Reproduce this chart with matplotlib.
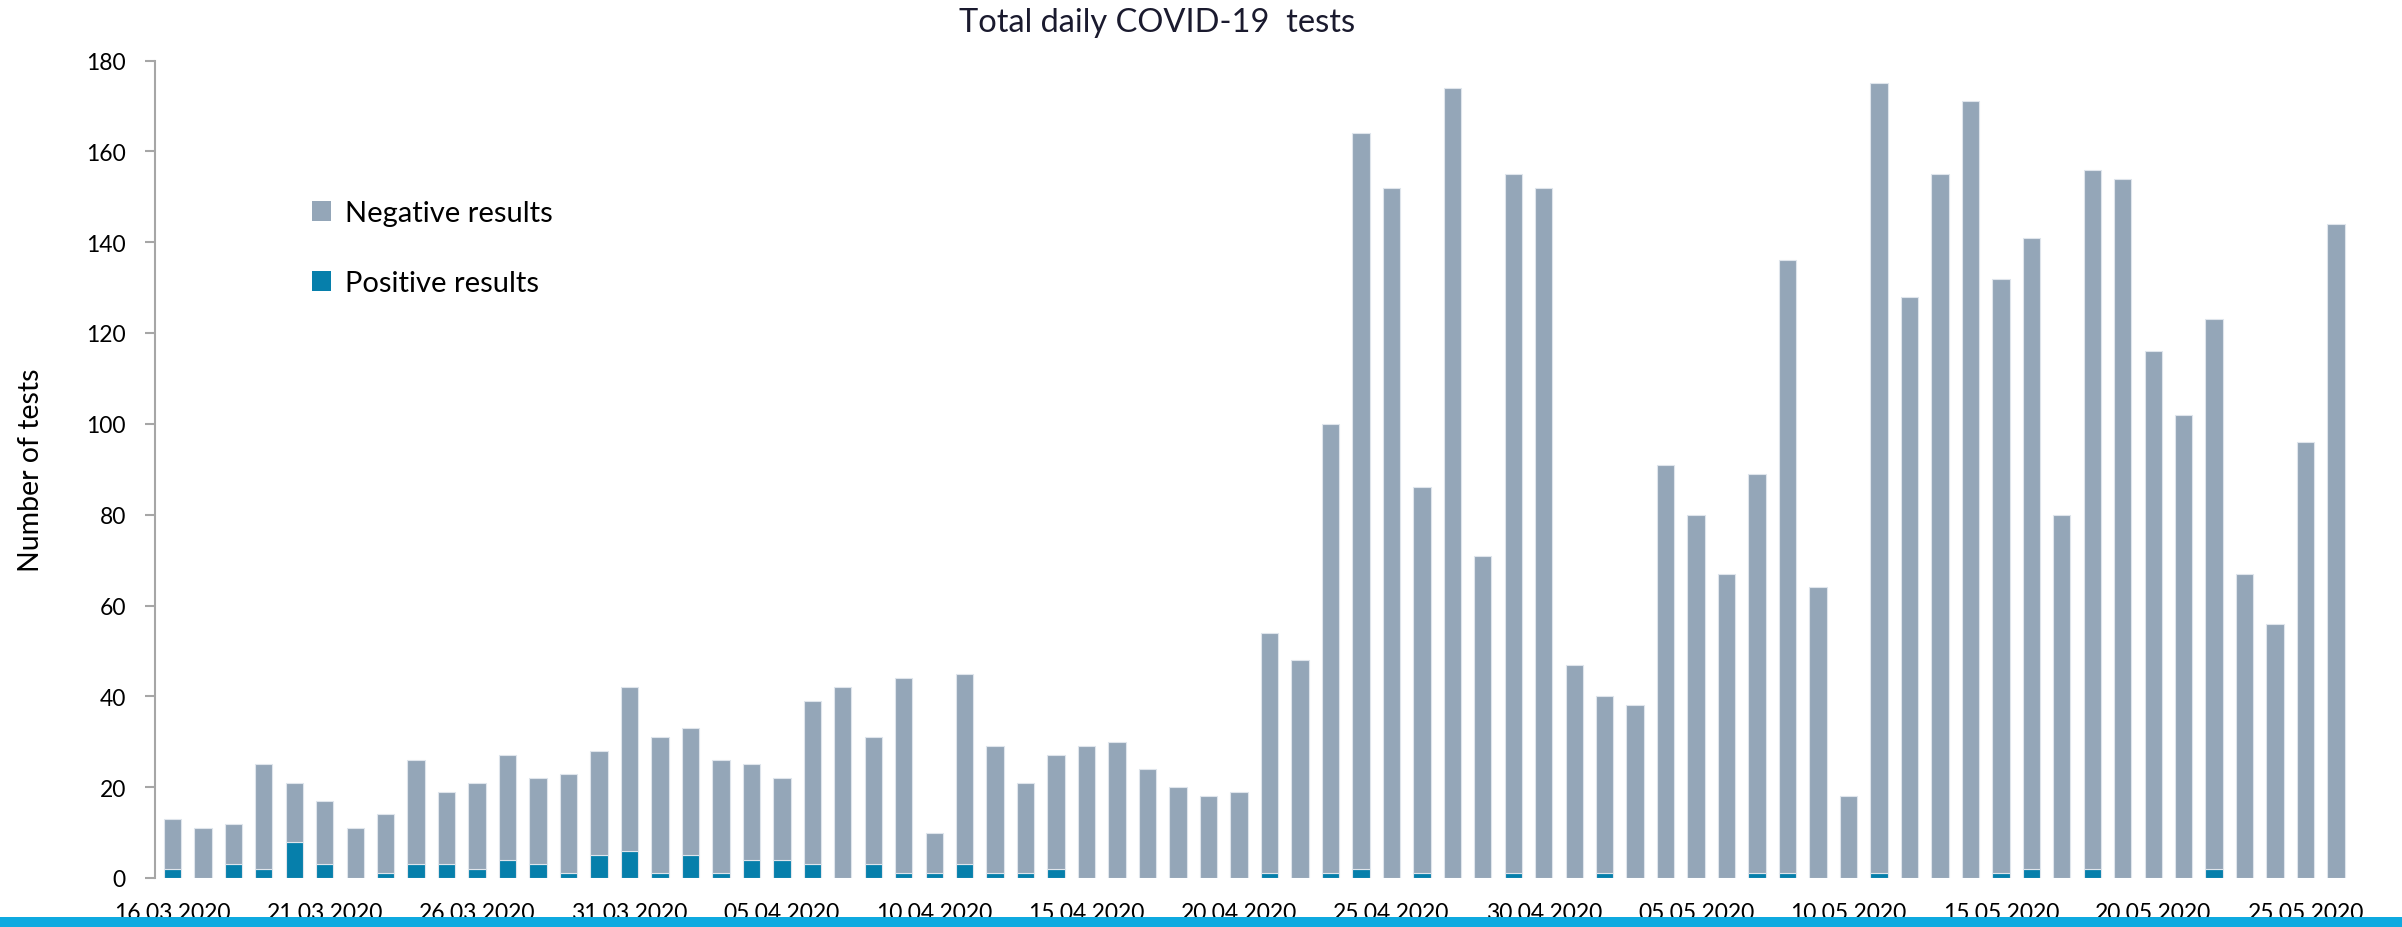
import pandas as pd
import matplotlib
matplotlib.use('Agg')
import matplotlib.pyplot as plt
from matplotlib.patches import Patch, Rectangle

plt.rcParams['font.family'] = ['Lato', 'DejaVu Sans']

# days from 16.03.2020 to 26.05.2020
fechas = pd.date_range('2020-03-16', '2020-05-26', freq='D')
rotulos = [f.strftime('%d.%m.%Y') for f in fechas]

total = [13, 11, 12, 25, 21, 17, 11, 14, 26, 19, 21, 27, 22, 23, 28, 42, 31, 33, 26, 25,
         22, 39, 42, 31, 44, 10, 45, 29, 21, 27, 29, 30, 24, 20, 18, 19, 54, 48, 100, 164,
         152, 86, 174, 71, 155, 152, 47, 40, 38, 91, 80, 67, 89, 136, 64, 18, 175, 128, 155, 171,
         132, 141, 80, 156, 154, 116, 102, 123, 67, 56, 96, 144]

positivos = [2, 0, 3, 2, 8, 3, 0, 1, 3, 3, 2, 4, 3, 1, 5, 6, 1, 5, 1, 4,
             4, 3, 0, 3, 1, 1, 3, 1, 1, 2, 0, 0, 0, 0, 0, 0, 1, 0, 1, 2,
             0, 1, 0, 0, 1, 0, 0, 1, 0, 0, 0, 0, 1, 1, 0, 0, 1, 0, 0, 0,
             1, 2, 0, 2, 0, 0, 0, 2, 0, 0, 0, 0]

negativos = [t - p for t, p in zip(total, positivos)]

color_neg = '#94a6b8'
color_pos = '#067fab'

fig = plt.figure(figsize=(24.02, 9.28), dpi=100)
ax = fig.add_axes([155 / 2402, 1 - 879 / 928, (2365 - 155) / 2402, (879 - 61.5) / 928])

x = list(range(len(rotulos)))
ax.bar(x, positivos, width=0.57, color=color_pos, edgecolor='#dfe5ec', linewidth=0.8)
ax.bar(x, negativos, width=0.57, bottom=positivos, color=color_neg, edgecolor='#dfe5ec', linewidth=0.8)

ax.set_xlim(-0.57, 71.95)
ax.set_ylim(0, 180)
ax.set_yticks(range(0, 181, 20))
ax.set_xticks(x[::5])
ax.set_xticklabels(rotulos[::5])

for s in ['top', 'right', 'bottom']:
    ax.spines[s].set_visible(False)
ax.spines['left'].set_color('#a6a6a6')
ax.spines['left'].set_linewidth(1.5)
ax.tick_params(axis='y', colors='#a6a6a6', length=7, width=1.5, pad=14, labelsize=16.5, labelcolor='black')
ax.tick_params(axis='x', length=0, pad=17, labelsize=16.5, labelcolor='black')

ax.set_ylabel('Number of tests', fontsize=20.5)
ax.yaxis.set_label_coords(-0.050, 0.5)

fig.text(1157 / 2402, 1 - 23 / 928, 'Total daily COVID-19  tests', ha='center', va='center',
         fontsize=23.5, color='#1a1a2e')

handles = [Patch(facecolor=color_neg, label='Negative results'),
           Patch(facecolor=color_pos, label='Positive results')]
ax.legend(handles=handles, loc='upper left', bbox_to_anchor=(0.059, 0.861), frameon=False,
          fontsize=21, handlelength=0.65, handleheight=0.65, handletextpad=0.5, labelspacing=1.5)

# blue band at the bottom
fig.patches.append(Rectangle((0, 0), 1, 10 / 928, transform=fig.transFigure,
                             facecolor='#0eaae0', edgecolor='none', zorder=10))

fig.savefig('out.png', dpi=100)
